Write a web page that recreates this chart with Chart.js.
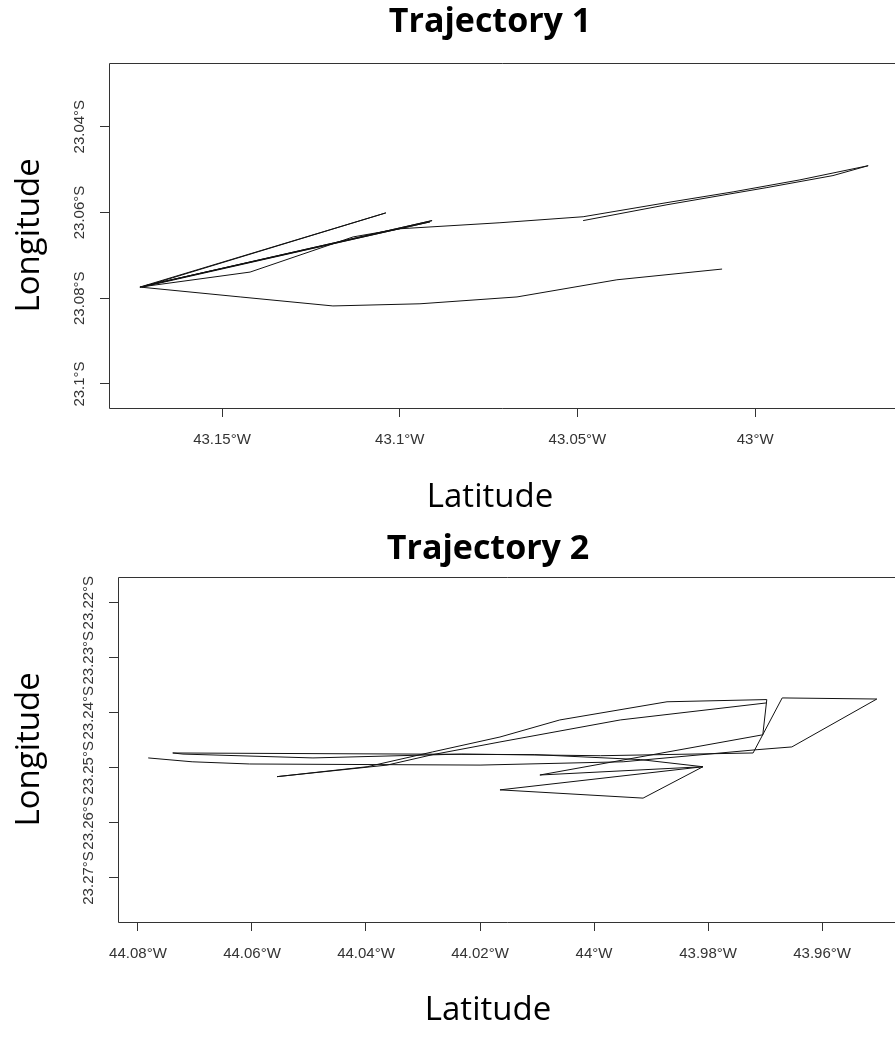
<!DOCTYPE html>
<html>
<head>
<meta charset="utf-8">
<script src="https://cdn.jsdelivr.net/npm/chart.js@4.4.1/dist/chart.umd.min.js"></script>
<style>
	body { margin: 0; background: #fff; overflow: hidden; }
	canvas { position: absolute; left: 0; }
	#traj1 { top: 0; }
	#traj2 { top: 514px; }
</style>
</head>
<body>
<canvas id="traj1" width="895" height="525"></canvas>
<canvas id="traj2" width="895" height="525"></canvas>
<script>
// Trajectory 1 (degrees W / degrees S, in the order the track was drawn)
const lon1 = [43.0093, 43.0389, 43.0670, 43.0943, 43.1188, 43.1449, 43.1731, 43.0909, 43.1717, 43.0915, 43.1725, 43.1039, 43.1731,
	43.1421, 43.1131, 43.0999, 43.0718, 43.0484, 43.0248, 43.0062, 42.9874, 42.9682, 42.9781, 42.9967, 43.0248, 43.0484];
const lat1 = [23.0732, 23.0757, 23.0797, 23.0813, 23.0818, 23.0797, 23.0774, 23.0619, 23.0771, 23.0622, 23.0774, 23.0601, 23.0774,
	23.0739, 23.0657, 23.0638, 23.0624, 23.0610, 23.0577, 23.0552, 23.0524, 23.0491, 23.0514, 23.0542, 23.0582, 23.0619];

// Trajectory 2
const lon2 = [44.0782, 44.0705, 44.0604, 44.0200, 43.9949, 43.9714, 43.9653, 43.9504, 43.9670, 43.9721, 43.9989, 44.0232, 44.0493,
	44.0721, 44.0739, 44.0104, 43.9919, 43.9809, 44.0165, 43.9914, 43.9809, 44.0095, 43.9704, 43.9697, 43.9872, 44.0060, 44.0165,
	44.0283, 44.0398, 44.0556, 44.0363, 44.0283, 44.0165, 43.9954, 43.9697];
const lat2 = [23.2482, 23.2489, 23.2493, 23.2495, 23.2489, 23.2467, 23.2462, 23.2375, 23.2373, 23.2473, 23.2478, 23.2475, 23.2482,
	23.2475, 23.2473, 23.2476, 23.2485, 23.2498, 23.2540, 23.2555, 23.2498, 23.2513, 23.2440, 23.2376, 23.2380, 23.2413, 23.2444,
	23.2471, 23.2498, 23.2516, 23.2495, 23.2476, 23.2453, 23.2413, 23.2382];

// tick marks
const xTicks1 = [43.15, 43.1, 43.05, 43];
const xTickLabels1 = ["43.15°W", "43.1°W", "43.05°W", "43°W"];
const yTicks1 = [23.04, 23.06, 23.08, 23.1];
const yTickLabels1 = ["23.04°S", "23.06°S", "23.08°S", "23.1°S"];

const xTicks2 = [44.08, 44.06, 44.04, 44.02, 44, 43.98, 43.96];
const xTickLabels2 = ["44.08°W", "44.06°W", "44.04°W", "44.02°W", "44°W", "43.98°W", "43.96°W"];
const yTicks2 = [23.22, 23.23, 23.24, 23.25, 23.26, 23.27];
const yTickLabels2 = ["23.22°S", "23.23°S", "23.24°S", "23.25°S", "23.26°S", "23.27°S"];

// plot extents (W/S degrees)
const xRange1 = [43.1818, 42.9674];
const yRange1 = [23.1056, 23.0251];
const xRange2 = [44.0835, 43.9537];
const yRange2 = [23.2780, 23.2153];

// box round the plot + rotated y tick labels, R style
const frame = {
	id: "frame",
	afterDraw(chart, args, opts) {
		const { ctx, chartArea: a, scales: { y } } = chart;
		const l = Math.round(a.left) + 0.5, t = Math.round(a.top) + 0.5, b = Math.round(a.bottom) + 0.5;
		ctx.save();
		ctx.strokeStyle = "#333";
		ctx.lineWidth = 1;
		ctx.beginPath();
		ctx.moveTo(chart.width + 2, t);
		ctx.lineTo(l, t);
		ctx.lineTo(l, b);
		ctx.lineTo(chart.width + 2, b);
		ctx.stroke();

		ctx.fillStyle = "#333";
		ctx.font = '15px "Liberation Sans", Arial, sans-serif';
		ctx.textAlign = "center";
		ctx.textBaseline = "middle";
		opts.values.forEach((v, i) => {
			ctx.save();
			ctx.translate(a.left - 29, y.getPixelForValue(-v));
			ctx.rotate(-Math.PI / 2);
			ctx.fillText(opts.labels[i], 0, 0);
			ctx.restore();
		});
		ctx.restore();
	}
};

function drawTrajectory(id, title, lon, lat, xr, yr, xt, xl, yt, yl, yWidth, rightPad, titlePad, latPad) {
	new Chart(document.getElementById(id), {
		type: "scatter",
		data: {
			datasets: [{
				data: lon.map((v, i) => ({ x: -v, y: -lat[i] })),
				showLine: true,
				borderColor: "#111",
				borderWidth: 1,
				pointRadius: 0,
				tension: 0,
				clip: false
			}]
		},
		plugins: [frame],
		options: {
			responsive: false,
			animation: false,
			layout: { padding: { left: 0, top: 0, bottom: 0, right: rightPad } },
			plugins: {
				legend: { display: false },
				tooltip: { enabled: false },
				title: {
					display: true,
					fullSize: false,
					text: title,
					color: "#000",
					font: { family: "Open Sans", size: 34, weight: "bold" },
					padding: titlePad
				},
				frame: { values: yt, labels: yl }
			},
			scales: {
				x: {
					type: "linear",
					min: -xr[0],
					max: -xr[1],
					afterBuildTicks: s => { s.ticks = xt.map(v => ({ value: -v })); },
					afterFit: s => { s.height = 117; },
					border: { display: false },
					grid: { drawOnChartArea: false, drawTicks: true, tickLength: 9, color: "#333" },
					ticks: {
						padding: 14,
						color: "#333",
						font: { family: "Liberation Sans", size: 15 },
						maxRotation: 0,
						callback: (v, i) => xl[i]
					},
					title: {
						display: true,
						text: "Latitude",
						color: "#000",
						font: { family: "Open Sans", size: 33 },
						padding: { top: 0, bottom: latPad }
					}
				},
				y: {
					type: "linear",
					min: -yr[0],
					max: -yr[1],
					afterBuildTicks: s => { s.ticks = yt.map(v => ({ value: -v })); },
					afterFit: s => { s.width = yWidth; },
					border: { display: false },
					grid: { drawOnChartArea: false, drawTicks: true, tickLength: 9, color: "#333" },
					ticks: { display: false },
					title: {
						display: true,
						text: "Longitude",
						color: "#000",
						font: { family: "Open Sans", size: 33 },
						padding: { top: 10, bottom: 0 }
					}
				}
			}
		}
	});
}

drawTrajectory("traj1", "Trajectory 1", lon1, lat1, xRange1, yRange1, xTicks1, xTickLabels1, yTicks1, yTickLabels1,
	109, 24, { top: 2, bottom: 20 }, 8);
drawTrajectory("traj2", "Trajectory 2", lon2, lat2, xRange2, yRange2, xTicks2, xTickLabels2, yTicks2, yTickLabels2,
	118, 37, { top: 15, bottom: 7 }, 9);
</script>
</body>
</html>
